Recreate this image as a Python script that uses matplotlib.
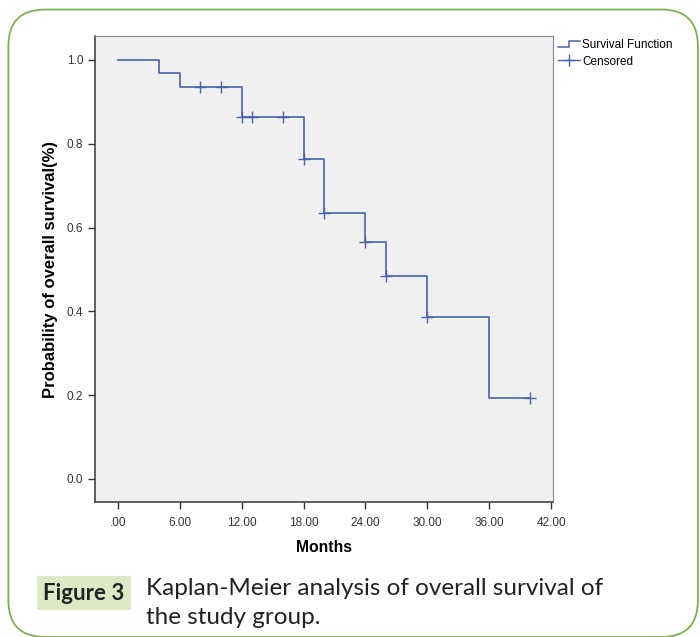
import matplotlib.pyplot as plt
from matplotlib.lines import Line2D
from matplotlib.legend_handler import HandlerBase
from matplotlib.patches import FancyBboxPatch, Rectangle

# Kaplan-Meier step values
event_months = [0, 4, 6, 12, 18, 20, 24, 26, 30, 36, 40]
survival = [1.0, 0.968, 0.935, 0.863, 0.763, 0.635, 0.565, 0.484, 0.386, 0.193, 0.193]

# censored observations
censor_months = [8, 10, 12, 13, 16, 18, 20, 24, 26, 30, 40]
censor_surv = [0.935, 0.935, 0.863, 0.863, 0.863, 0.763, 0.635, 0.565, 0.484, 0.386, 0.193]

xticks = [0, 6, 12, 18, 24, 30, 36, 42]
xtick_labels = ['.00', '6.00', '12.00', '18.00', '24.00', '30.00', '36.00', '42.00']
yticks = [0.0, 0.2, 0.4, 0.6, 0.8, 1.0]

blue = '#4a62ad'
plt.rcParams['font.family'] = ['Liberation Sans', 'DejaVu Sans']

fig = plt.figure(figsize=(7, 6.37), dpi=100)
ax = fig.add_axes([0.1357, 0.2119, 0.6543, 0.7316])
ax.set_facecolor('#f0f0f0')

ax.step(event_months, survival, where='post', color=blue, lw=1.2)
ax.plot(censor_months, censor_surv, ls='none', marker='+', ms=8, mew=1.0, color=blue)

ax.set_xlim(-2.23, 42.19)
ax.set_ylim(-0.055, 1.057)
ax.set_xticks(xticks)
ax.set_xticklabels(xtick_labels)
ax.set_yticks(yticks)
ax.tick_params(axis='both', direction='out', length=5, width=1, color='#333333',
               labelsize=8.5, labelcolor='#333333')
ax.tick_params(axis='x', pad=6)
for side in ['top', 'right']:
    ax.spines[side].set_color('#888888')
for side in ['left', 'bottom']:
    ax.spines[side].set_color('#444444')
    ax.spines[side].set_linewidth(1.2)

ax.set_xlabel('Months', fontsize=11.3, fontweight='bold', labelpad=8)
ax.set_ylabel('Probability of overall survival(%)', fontsize=12, fontweight='bold', labelpad=6)


class StepHandler(HandlerBase):
    def create_artists(self, legend, orig_handle, x0, y0, width, height, fontsize, trans):
        xs = [x0, x0 + width * 0.5, x0 + width * 0.5, x0 + width]
        ys = [y0 + height * 0.15, y0 + height * 0.15, y0 + height * 0.9, y0 + height * 0.9]
        return [Line2D(xs, ys, color=blue, lw=1.1, transform=trans)]


step_handle = Line2D([], [], color=blue)
cens_handle = Line2D([0], [0], color=blue, lw=1.0, marker='+', ms=9, mew=1.0)
ax.legend([step_handle, cens_handle], ['Survival Function', 'Censored'],
          handler_map={step_handle: StepHandler()},
          loc='upper left', bbox_to_anchor=(1.0, 1.004), frameon=False,
          fontsize=8.5, handlelength=1.8, handletextpad=0.2, labelspacing=0.35,
          borderaxespad=0.05)

# rounded green frame
fig.patches.append(FancyBboxPatch((0.012, 0.0), 0.985, 0.985 - 0.0,
                                  boxstyle='round,pad=0,rounding_size=0.052',
                                  transform=fig.transFigure, fill=False,
                                  edgecolor='#7fb04f', lw=1.3, mutation_aspect=700 / 637))

# caption
fig.patches.append(Rectangle((37 / 700, 1 - 610 / 637), 94 / 700, 34 / 637,
                             transform=fig.transFigure, facecolor='#dde9c6', edgecolor='none'))
fig.text(84 / 700, 1 - 593 / 637, 'Figure 3', ha='center', va='center',
         fontsize=16, fontweight='bold', family=['Lato', 'DejaVu Sans'], color='#222222')
fig.text(146 / 700, 1 - 603 / 637, 'Kaplan-Meier analysis of overall survival of\nthe study group.',
         ha='left', va='center', fontsize=17.5, family=['Lato', 'DejaVu Sans'],
         color='#222222', linespacing=1.5)

fig.savefig('out.png', dpi=100)
